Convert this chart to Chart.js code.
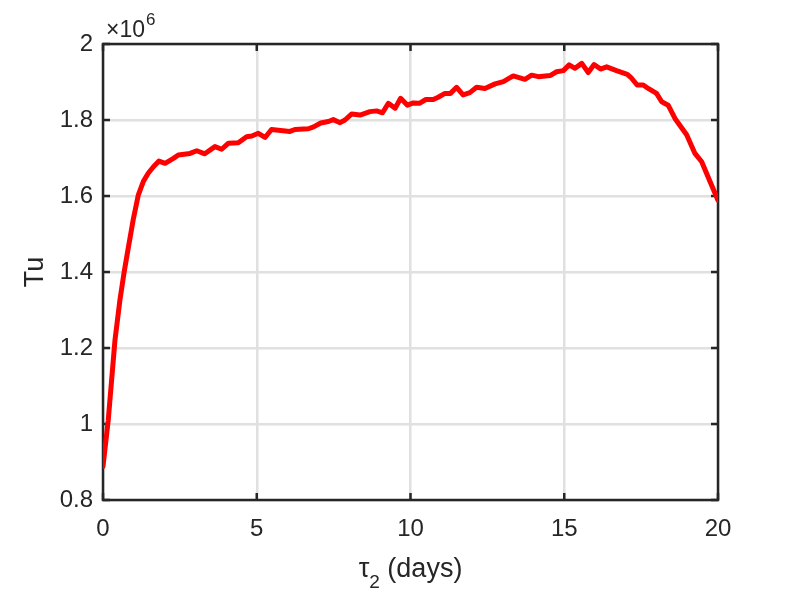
<!DOCTYPE html>
<html>
<head>
<meta charset="utf-8">
<script src="https://cdn.jsdelivr.net/npm/chart.js@4/dist/chart.umd.min.js"></script>
<style>
    body { margin: 0; background: #fff; }
    #wrap { width: 793px; height: 595px; }
</style>
</head>
<body>
<div id="wrap"><canvas id="tuChart" width="793" height="595"></canvas></div>
<script>
// tau_2 (days) and Tu (in units of 10^6)
const tauDays = [0, 0.17, 0.39, 0.55, 0.69, 0.83, 0.99, 1.15, 1.31, 1.47, 1.64, 1.82, 2.02, 2.29, 2.45, 2.83, 3.05, 3.31, 3.64, 3.86,
    4.08, 4.4, 4.67, 4.84, 5.05, 5.27, 5.48, 6.08, 6.24, 6.68, 6.85, 7.08, 7.33, 7.49, 7.71, 7.87,
    8.09, 8.36, 8.68, 8.9, 9.09, 9.28, 9.5, 9.68, 9.9, 10.09, 10.29, 10.5, 10.74, 10.9, 11.12, 11.3,
    11.5, 11.71, 11.93, 12.15, 12.42, 12.75, 13.02, 13.34, 13.72, 13.94, 14.16, 14.54, 14.75, 14.97,
    15.16, 15.35, 15.57, 15.78, 15.97, 16.18, 16.38, 16.7, 17.05, 17.19, 17.37, 17.57, 17.73, 18.0,
    18.17, 18.38, 18.6, 18.98, 19.25, 19.47, 19.74, 20.0];
const tuValues = [0.888, 1.01, 1.221, 1.326, 1.401, 1.467, 1.541, 1.603, 1.638, 1.66, 1.677, 1.692, 1.686, 1.699, 1.708, 1.712, 1.719, 1.711, 1.73, 1.723,
    1.739, 1.74, 1.756, 1.758, 1.765, 1.754, 1.775, 1.77, 1.775, 1.777, 1.782, 1.792, 1.796, 1.801, 1.793, 1.8,
    1.816, 1.813, 1.822, 1.824, 1.819, 1.844, 1.831, 1.857, 1.839, 1.845, 1.844, 1.854, 1.854, 1.86, 1.87, 1.87,
    1.886, 1.866, 1.872, 1.886, 1.883, 1.895, 1.901, 1.916, 1.907, 1.918, 1.914, 1.917, 1.927, 1.93,
    1.945, 1.936, 1.949, 1.925, 1.946, 1.934, 1.94, 1.93, 1.92, 1.91, 1.892, 1.892, 1.883, 1.87,
    1.848, 1.839, 1.804, 1.761, 1.712, 1.69, 1.638, 1.589];

const xTickValues = [0, 5, 10, 15, 20];
const xTickLabels = ['0', '5', '10', '15', '20'];
const yTickValues = [0.8, 1.0, 1.2, 1.4, 1.6, 1.8, 2.0];
const yTickLabels = ['0.8', '1', '1.2', '1.4', '1.6', '1.8', '2'];

const fontFamily = '"Liberation Sans", Helvetica, Arial, sans-serif';
const axisColor = '#262626';

function line(ctx, x1, y1, x2, y2) {
    ctx.beginPath();
    ctx.moveTo(x1, y1);
    ctx.lineTo(x2, y2);
    ctx.stroke();
}

// box, inward ticks, titles and the x10^6 label, matlab style
const matlabAxes = {
    id: 'matlabAxes',
    beforeDatasetsDraw(chart) {
        const ctx = chart.ctx;
        const a = chart.chartArea;
        const xs = chart.scales.x, ys = chart.scales.y;
        ctx.save();
        ctx.strokeStyle = axisColor;
        ctx.lineWidth = 2.5;
        ctx.strokeRect(a.left, a.top, a.right - a.left, a.bottom - a.top);
        xTickValues.forEach(v => {
            const px = xs.getPixelForValue(v);
            line(ctx, px, a.bottom, px, a.bottom - 7);
            line(ctx, px, a.top, px, a.top + 7);
        });
        yTickValues.forEach(v => {
            const py = ys.getPixelForValue(v);
            line(ctx, a.left, py, a.left + 7, py);
            line(ctx, a.right, py, a.right - 7, py);
        });
        ctx.restore();
    },
    afterDraw(chart) {
        const ctx = chart.ctx;
        const a = chart.chartArea;
        ctx.save();
        ctx.fillStyle = axisColor;
        ctx.textBaseline = 'alphabetic';

        // exponent
        ctx.textAlign = 'left';
        ctx.font = '23px ' + fontFamily;
        ctx.fillText('\u00d710', a.left + 3, 37);
        const w10 = ctx.measureText('\u00d710').width;
        ctx.font = '17px ' + fontFamily;
        ctx.fillText('6', a.left + 4 + w10, 25);

        // y title
        ctx.save();
        ctx.translate(43, 272);
        ctx.rotate(-Math.PI / 2);
        ctx.textAlign = 'center';
        ctx.font = '27px ' + fontFamily;
        ctx.fillText('Tu', 0, 0);
        ctx.restore();

        // x title: tau with subscript 2
        const big = '27px ' + fontFamily, small = '19px ' + fontFamily;
        ctx.font = big;
        const wTau = ctx.measureText('\u03c4').width;
        const wRest = ctx.measureText(' (days)').width;
        ctx.font = small;
        const wSub = ctx.measureText('2').width;
        let x0 = (a.left + a.right) / 2 - (wTau + wSub + wRest) / 2;
        ctx.textAlign = 'left';
        ctx.font = big;
        ctx.fillText('\u03c4', x0, 577);
        ctx.font = small;
        ctx.fillText('2', x0 + wTau, 588);
        ctx.font = big;
        ctx.fillText(' (days)', x0 + wTau + wSub, 577);
        ctx.restore();
    }
};

const ctx = document.getElementById('tuChart').getContext('2d');
new Chart(ctx, {
    type: 'line',
    data: {
        datasets: [{
            data: tauDays.map((t, i) => ({ x: t, y: tuValues[i] })),
            borderColor: '#ff0000',
            borderWidth: 5,
            borderJoinStyle: 'round',
            borderCapStyle: 'round',
            pointRadius: 0,
            tension: 0,
            fill: false
        }]
    },
    options: {
        responsive: false,
        animation: false,
        layout: { padding: { top: 44, right: 75, left: 0, bottom: 0 } },
        plugins: {
            legend: { display: false },
            tooltip: { enabled: false }
        },
        scales: {
            x: {
                type: 'linear',
                min: 0,
                max: 20,
                afterBuildTicks: scale => { scale.ticks = xTickValues.map(v => ({ value: v })); },
                afterFit: scale => { scale.height = 95; },
                ticks: {
                    callback: (v, i) => xTickLabels[i],
                    font: { family: fontFamily, size: 24 },
                    color: axisColor,
                    padding: 15,
                    maxRotation: 0
                },
                grid: { color: '#e0e0e0', lineWidth: 2.5, drawTicks: false },
                border: { display: false }
            },
            y: {
                type: 'linear',
                min: 0.8,
                max: 2.0,
                afterBuildTicks: scale => { scale.ticks = yTickValues.map(v => ({ value: v })); },
                afterFit: scale => { scale.width = 103; },
                ticks: {
                    callback: (v, i) => yTickLabels[i],
                    font: { family: fontFamily, size: 24 },
                    color: axisColor,
                    padding: 10
                },
                grid: { color: '#e0e0e0', lineWidth: 2.5, drawTicks: false },
                border: { display: false }
            }
        }
    },
    plugins: [matlabAxes]
});
</script>
</body>
</html>
